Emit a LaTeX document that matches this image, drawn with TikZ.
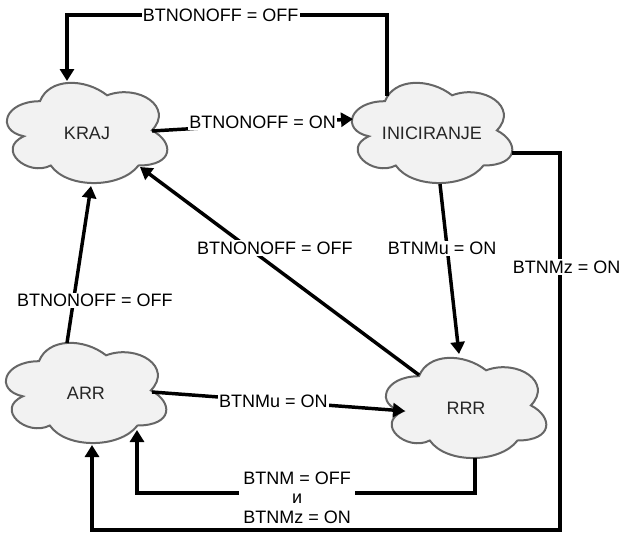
\documentclass[tikz,border=0pt]{standalone}
\usepackage{fontspec}
\setmainfont{Liberation Sans}
\usetikzlibrary{arrows.meta,calc}
\definecolor{cloudfill}{HTML}{F2F2F2}
\definecolor{cloudedge}{HTML}{666666}
\newcommand\labfont{\fontsize{13.5}{15}\selectfont}
\newcommand\mycloud[3]{%
  \begin{scope}[shift={#2}]
    \draw[cloudline] (-47.0,-31.8) .. controls (-82.8,-31.8) and (-91.7,-2.6) .. (-63.1,3.3)
      .. controls (-91.7,16.1) and (-59.5,44.2) .. (-36.2,32.5)
      .. controls (-20.1,55.9) and (33.6,55.9) .. (51.5,32.5)
      .. controls (87.3,32.5) and (87.3,9.1) .. (64.9,-2.6)
      .. controls (87.3,-26.0) and (51.5,-49.4) .. (20.1,-37.7)
      .. controls (-2.2,-55.2) and (-38.0,-55.2) .. (-47.0,-31.8) -- cycle;
  \end{scope}
  \node[cloudtext] (#1) at #2 {#3};
}
\begin{document}
\begin{tikzpicture}[x=0.75pt,y=-0.75pt,
  cloudline/.style={draw=cloudedge,fill=cloudfill,line width=1.5pt},
  cloudtext/.style={font=\labfont,text=black!85,inner sep=0pt},
  conn/.style={line width=2.6pt,-{Triangle[length=9pt,width=10.5pt]}},
  lab/.style={fill=white,inner sep=1pt,font=\labfont,text=black},
  lab3/.style={fill=white,inner xsep=3pt,inner ysep=0pt,font=\labfont,text=black,align=center}]
\useasboundingbox (0,0) rectangle (622,536);

\mycloud{kraj}{(87,133)}{KRAJ}
\mycloud{ini}{(432,133)}{INICIRANJE}
\mycloud{rrr}{(466,408)}{RRR}
\mycloud{arr}{(86,393)}{ARR}

% INICIRANJE -> KRAJ (top loop)
\draw[conn] ($(ini.center)+(-45,-37)$) |- node[lab,pos=0.76]{BTNONOFF = OFF} ($(kraj.center)+(-20,-118)$)
  -- ($(kraj.center)+(-20,-52)$);
% KRAJ -> INICIRANJE
\draw[conn] ($(kraj.center)+(65,-2)$) -- node[lab,pos=0.55,yshift=1.5pt]{BTNONOFF = ON} ($(ini.center)+(-79,-14)$);
% INICIRANJE -> RRR
\draw[conn] ($(ini.center)+(8,51)$) -- node[lab,pos=0.38,xshift=-3.75pt]{BTNMu = ON} ($(rrr.center)+(-7,-54)$);
% RRR -> ARR
\draw[conn] ($(rrr.center)+(9,50)$) -- ++(0,35) -| node[lab3,pos=0.263,yshift=-3.4pt]{BTNM = OFF\\[-0.5pt]и\\[-0.5pt]BTNMz = ON} ($(arr.center)+(51,37)$);
% INICIRANJE -> ARR (outer loop)
\draw[conn] ($(ini.center)+(80,20)$) -| node[lab,pos=0.651,xshift=5pt]{BTNMz = ON} (560,530)
  -| ($(arr.center)+(6,52)$);
% ARR -> KRAJ
\draw[conn] ($(arr.center)+(-19,-50)$) -- node[lab,pos=0.27,xshift=16pt]{BTNONOFF = OFF} ($(kraj.center)+(4,53)$);
% RRR -> KRAJ
\draw[conn] ($(rrr.center)+(-47,-33)$) -- node[lab,pos=0.61,xshift=19.5pt]{BTNONOFF = OFF} ($(kraj.center)+(53,34)$);
% ARR -> RRR
\draw[conn] ($(arr.center)+(66,-1)$) -- node[lab,pos=0.48]{BTNMu = ON} ($(rrr.center)+(-61,3)$);
\end{tikzpicture}
\end{document}
